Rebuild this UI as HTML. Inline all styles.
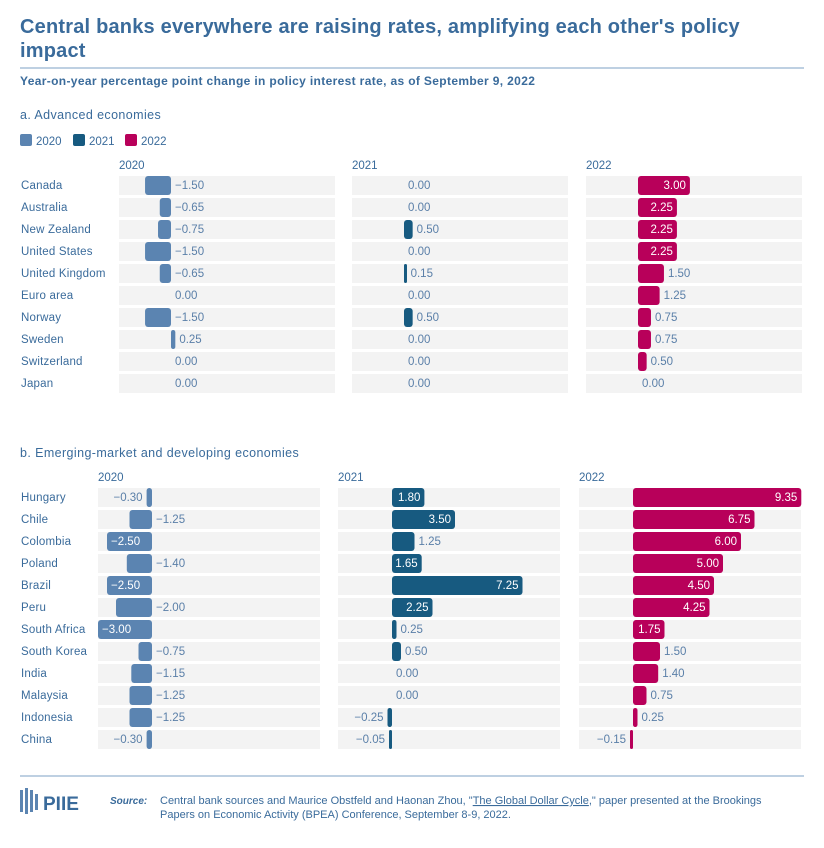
<!DOCTYPE html>
<html><head><meta charset="utf-8">
<style>
html,body{margin:0;padding:0;background:#fff;width:824px;height:848px;overflow:hidden;font-family:"Liberation Sans",sans-serif}
svg{display:block}
</style></head>
<body>
<svg id="c" width="824" height="848" xmlns="http://www.w3.org/2000/svg">
<text x="20" y="33" font-size="20" font-weight="bold" fill="#3a6b9b" letter-spacing="0.2">Central banks everywhere are raising rates, amplifying each other's policy</text>
<text x="20" y="57" font-size="20" font-weight="bold" fill="#3a6b9b" letter-spacing="0.2">impact</text>
<line x1="20" y1="68" x2="804" y2="68" stroke="#a9c1d8" stroke-width="1.5"/>
<text x="20" y="85" font-size="12" font-weight="bold" fill="#3a6b9b" letter-spacing="0.35">Year-on-year percentage point change in policy interest rate, as of September 9, 2022</text>
<text x="20" y="119" font-size="12.5" fill="#3a6b9b" letter-spacing="0.4">a. Advanced economies</text>
<g>
<rect x="20" y="134" width="12" height="12" rx="2" fill="#5b84b1"/>
<text x="36" y="145" font-size="11.5" fill="#3a6b9b">2020</text>
<rect x="73" y="134" width="12" height="12" rx="2" fill="#175a80"/>
<text x="89" y="145" font-size="11.5" fill="#3a6b9b">2021</text>
<rect x="125" y="134" width="12" height="12" rx="2" fill="#b8005a"/>
<text x="141" y="145" font-size="11.5" fill="#3a6b9b">2022</text>
</g>
<text x="20" y="457" font-size="12.5" fill="#3a6b9b" letter-spacing="0.4">b. Emerging-market and developing economies</text>
<line x1="20" y1="776" x2="804" y2="776" stroke="#a9c1d8" stroke-width="1.5"/>
<g>
<rect x="20" y="790" width="3" height="22" fill="#5b84b1"/><rect x="25" y="788" width="3" height="26" fill="#5b84b1"/><rect x="30" y="790" width="3" height="22" fill="#5b84b1"/><rect x="35" y="794" width="3" height="16" fill="#5b84b1"/>
<text x="43" y="810" font-size="19" font-weight="bold" fill="#3a6b9b">PIIE</text>
</g>
<text x="110" y="804" font-size="10" font-weight="bold" font-style="italic" fill="#3a6b9b">Source:</text>
<text x="160" y="804" font-size="11" fill="#3a6b9b">Central bank sources and Maurice Obstfeld and Haonan Zhou, "<tspan text-decoration="underline">The Global Dollar Cycle</tspan>," paper presented at the Brookings</text>
<text x="160" y="818" font-size="11" fill="#3a6b9b">Papers on Economic Activity (BPEA) Conference, September 8-9, 2022.</text>
<g id="plots"></g>
</svg>
<script>
const advCountries=["Canada","Australia","New Zealand","United States","United Kingdom","Euro area","Norway","Sweden","Switzerland","Japan"];
const adv2020=[-1.5,-0.65,-0.75,-1.5,-0.65,0,-1.5,0.25,0,0];
const adv2021=[0,0,0.5,0,0.15,0,0.5,0,0,0];
const adv2022=[3,2.25,2.25,2.25,1.5,1.25,0.75,0.75,0.5,0];
const emCountries=["Hungary","Chile","Colombia","Poland","Brazil","Peru","South Africa","South Korea","India","Malaysia","Indonesia","China"];
const em2020=[-0.3,-1.25,-2.5,-1.4,-2.5,-2,-3,-0.75,-1.15,-1.25,-1.25,-0.3];
const em2021=[1.8,3.5,1.25,1.65,7.25,2.25,0.25,0.5,0,0,-0.25,-0.05];
const em2022=[9.35,6.75,6,5,4.5,4.25,1.75,1.5,1.4,0.75,0.25,-0.15];
const years=["2020","2021","2022"];
const colors=["#5b84b1","#175a80","#b8005a"];
const NS="http://www.w3.org/2000/svg";
const root=document.getElementById("plots");
function mk(tag,attrs,parent){const e=document.createElementNS(NS,tag);for(const k in attrs)e.setAttribute(k,attrs[k]);parent.appendChild(e);return e;}
function fmt(v){return (v<0?"\u2212":"")+Math.abs(v).toFixed(2);}
function panelSet(sec,countries,series,lefts,width,zeroOff,scale,y0,labelX,insideMin,headerY){
  const xScale=(p,v)=>lefts[p]+zeroOff+v*scale;
  countries.forEach((c,i)=>{
    const t=mk("text",{x:labelX,y:y0+i*22+4,"font-size":11.5,fill:"#3a6b9b","letter-spacing":0.2},root);
    t.textContent=c;
    
    
  });
  series.forEach((vals,p)=>{
    const h=mk("text",{x:lefts[p],y:headerY,"font-size":11.5,fill:"#3a6b9b"},root);
    h.textContent=years[p];
    
    
    vals.forEach((v,i)=>{
      const cy=y0+i*22;
      const bg=mk("rect",{x:lefts[p],y:cy-9,width:width,height:19,fill:"#f3f3f3"},root);
      
      
      const z=xScale(p,0),xv=xScale(p,v);
      let bx=Math.min(z,xv),bw=Math.abs(xv-z);
      if(v!==0){
        if(bw<3){bw=3;if(v<0)bx=z-3;}
        const b=mk("rect",{x:bx,y:cy-9,width:bw,height:19,rx:Math.min(3,bw/2),fill:colors[p]},root);
        
        
      }
      const inside=Math.abs(v)>=insideMin[p]&&!(sec==="b"&&p===0&&v===-2);
      let tx,anchor="start",fill="#5a7fa8";
      if(inside){fill="#fff";if(v>0){tx=xv-4;anchor="end";}else{tx=xv+4;}}
      else if(v<0&&Math.abs(v)<0.5){tx=bx-4;anchor="end";}
      else if(v<0){tx=z+4;}
      else{tx=Math.max(xv,z)+4;}
      const l=mk("text",{x:tx,y:cy+4,"font-size":11.5,fill:fill,"text-anchor":anchor},root);
      l.textContent=fmt(v);
      
      
    });
  });
}
panelSet("a",advCountries,[adv2020,adv2021,adv2022],[119,352,586],216,52,17.3,185,21,[99,99,1.6],169);
panelSet("b",emCountries,[em2020,em2021,em2022],[98,338,579],222,54,18,497,21,[2.4,1.6,1.6],481);
</script>
</body></html>
